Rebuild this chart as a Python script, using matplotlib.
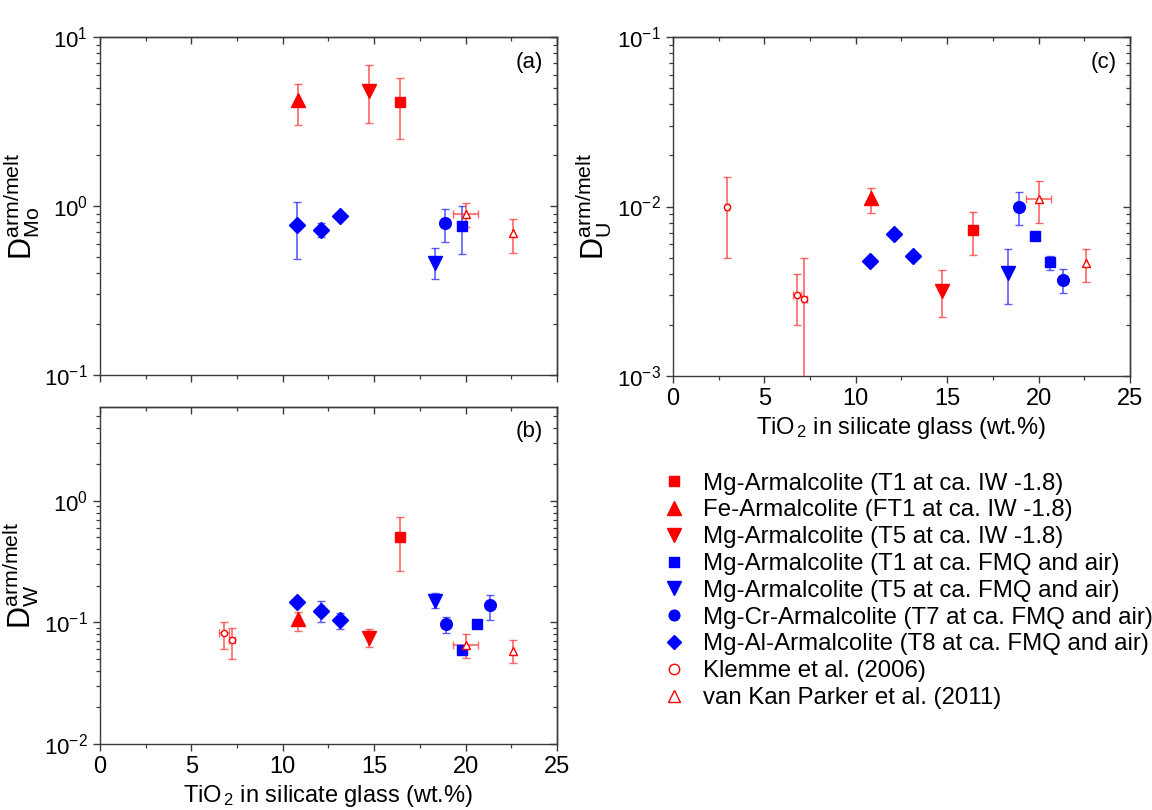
import matplotlib
matplotlib.use('Agg')
import matplotlib.pyplot as plt
from matplotlib.ticker import MultipleLocator, NullFormatter
from matplotlib.lines import Line2D
import numpy as np

plt.rcParams['font.family'] = ['Liberation Sans', 'DejaVu Sans']
plt.rcParams['mathtext.fontset'] = 'custom'
plt.rcParams['mathtext.rm'] = 'Liberation Sans'
plt.rcParams['mathtext.it'] = 'Liberation Sans:italic'
plt.rcParams['mathtext.bf'] = 'Liberation Sans:bold'
plt.rcParams['mathtext.sf'] = 'Liberation Sans'
plt.rcParams['axes.unicode_minus'] = False

# ---- data (TiO2 wt.%, D values and error-bar ends) ----
# Mg-Armalcolite T1, IW -1.8
t1iw_x = [16.4]
t1iw_mo, t1iw_mo_lo, t1iw_mo_hi = [4.14], [2.49], [5.74]
t1iw_w, t1iw_w_lo, t1iw_w_hi = [0.504], [0.267], [0.735]
t1iw_u, t1iw_u_lo, t1iw_u_hi = [0.00728], [0.00516], [0.00934]

# Fe-Armalcolite FT1, IW -1.8
ft1_x = [10.85]
ft1_mo, ft1_mo_lo, ft1_mo_hi = [4.24], [3.01], [5.27]
ft1_w, ft1_w_lo, ft1_w_hi = [0.106], [0.085], [0.122]
ft1_u, ft1_u_lo, ft1_u_hi = [0.0112], [0.0091], [0.0128]

# Mg-Armalcolite T5, IW -1.8
t5iw_x = [14.73]
t5iw_mo, t5iw_mo_lo, t5iw_mo_hi = [4.81], [3.08], [6.82]
t5iw_w, t5iw_w_lo, t5iw_w_hi = [0.075], [0.063], [0.0877]
t5iw_u, t5iw_u_lo, t5iw_u_hi = [0.00318], [0.00224], [0.00423]

# Mg-Armalcolite T1, FMQ and air
t1fmq_x_mo = [19.82]
t1fmq_mo, t1fmq_mo_lo, t1fmq_mo_hi = [0.762], [0.52], [1.0]
t1fmq_x = [19.8, 20.64]
t1fmq_w, t1fmq_w_lo, t1fmq_w_hi = [0.0593, 0.0968], [0.0593, 0.0968], [0.0593, 0.0968]
t1fmq_u, t1fmq_u_lo, t1fmq_u_hi = [0.00672, 0.00469], [0.00672, 0.00422], [0.00672, 0.00512]

# Mg-Armalcolite T5, FMQ and air
t5fmq_x = [18.34]
t5fmq_mo, t5fmq_mo_lo, t5fmq_mo_hi = [0.458], [0.368], [0.562]
t5fmq_w, t5fmq_w_lo, t5fmq_w_hi = [0.150], [0.132], [0.175]
t5fmq_u, t5fmq_u_lo, t5fmq_u_hi = [0.00407], [0.00266], [0.00563]

# Mg-Cr-Armalcolite T7, FMQ and air
t7_x_mo = [18.9]
t7_mo, t7_mo_lo, t7_mo_hi = [0.789], [0.609], [0.964]
t7_x = [18.92, 21.35]
t7_w, t7_w_lo, t7_w_hi = [0.0968, 0.138], [0.0813, 0.105], [0.111, 0.169]
t7_u, t7_u_lo, t7_u_hi = [0.00996, 0.00369], [0.00776, 0.0031], [0.0121, 0.00427]

# Mg-Al-Armalcolite T8, FMQ and air
t8_x = [10.8, 12.07, 13.11]
t8_mo, t8_mo_lo, t8_mo_hi = [0.773, 0.721, 0.877], [0.488, 0.66, 0.877], [1.05, 0.79, 0.877]
t8_w, t8_w_lo, t8_w_hi = [0.147, 0.125, 0.105], [0.147, 0.1006, 0.0888], [0.147, 0.150, 0.12]
t8_u, t8_u_lo, t8_u_hi = [0.00478, 0.0069, 0.00509], [0.00478, 0.0069, 0.00509], [0.00478, 0.0069, 0.00509]

# Klemme et al. (2006)
kl_x_w, kl_xerr_w = [6.78, 7.22], [0.25, 0.15]
kl_w, kl_w_lo, kl_w_hi = [0.0813, 0.0716], [0.0609, 0.0504], [0.1007, 0.0898]
kl_x_u, kl_xerr_u = [2.98, 6.77, 7.19], [0.11, 0.22, 0.15]
kl_u, kl_u_lo, kl_u_hi = [0.0100, 0.0030, 0.00284], [0.0050, 0.0020, 0.0005], [0.01496, 0.00401, 0.0050]

# van Kan Parker et al. (2011)
vk_x, vk_xerr = [20.0, 22.58], [0.7, 0.0]
vk_mo, vk_mo_lo, vk_mo_hi = [0.893, 0.689], [0.755, 0.525], [1.04, 0.838]
vk_w, vk_w_lo, vk_w_hi = [0.0648, 0.0582], [0.0514, 0.0461], [0.0797, 0.0711]
vk_u, vk_u_lo, vk_u_hi = [0.01106, 0.00463], [0.00798, 0.0036], [0.01406, 0.00563]

labels = ['Mg-Armalcolite (T1 at ca. IW -1.8)',
          'Fe-Armalcolite (FT1 at ca. IW -1.8)',
          'Mg-Armalcolite (T5 at ca. IW -1.8)',
          'Mg-Armalcolite (T1 at ca. FMQ and air)',
          'Mg-Armalcolite (T5 at ca. FMQ and air)',
          'Mg-Cr-Armalcolite (T7 at ca. FMQ and air)',
          'Mg-Al-Armalcolite (T8 at ca. FMQ and air)',
          'Klemme et al. (2006)',
          'van Kan Parker et al. (2011)']

RED = '#ff0000'
BLUE = '#0000ff'
RED_E = (1.0, 0.25, 0.25, 0.8)
BLUE_E = (0.2, 0.2, 1.0, 0.8)

st_t1iw = dict(marker='s', ms=7.4, mfc=RED, mec=RED, ecolor=RED_E)
st_ft1 = dict(marker='^', ms=10.5, mfc=RED, mec=RED, ecolor=RED_E)
st_t5iw = dict(marker='v', ms=10.2, mfc=RED, mec=RED, ecolor=RED_E)
st_t1fmq = dict(marker='s', ms=7.4, mfc=BLUE, mec=BLUE, ecolor=BLUE_E)
st_t5fmq = dict(marker='v', ms=10.2, mfc=BLUE, mec=BLUE, ecolor=BLUE_E)
st_t7 = dict(marker='o', ms=8.4, mfc=BLUE, mec=BLUE, ecolor=BLUE_E)
st_t8 = dict(marker='D', ms=8.0, mfc=BLUE, mec=BLUE, ecolor=BLUE_E)
st_kl = dict(marker='o', ms=4.5, mfc='white', mec=RED, ecolor=RED_E)
st_vk = dict(marker='^', ms=5.5, mfc='white', mec=RED, ecolor=RED_E)


def draw(ax, x, y, lo, hi, st, xerr=None):
    y = np.array(y)
    yerr = [y - np.array(lo), np.array(hi) - y]
    ax.errorbar(x, y, yerr=yerr, xerr=xerr, fmt=st['marker'], ms=st['ms'],
                mfc=st['mfc'], mec=st['mec'], mew=1.0, ecolor=st['ecolor'],
                elinewidth=1.2, capsize=3, capthick=1.2, linestyle='none',
                zorder=3)


SPINE = '#3a3a3a'


def style_axes(ax, ylim, show_xlabels):
    ax.set_yscale('log')
    ax.set_xlim(0, 25)
    ax.set_ylim(*ylim)
    ax.xaxis.set_major_locator(MultipleLocator(5))
    ax.xaxis.set_minor_locator(MultipleLocator(2.5))
    ax.yaxis.set_minor_formatter(NullFormatter())
    for s in ax.spines.values():
        s.set_color(SPINE)
        s.set_linewidth(1.0)
    ax.tick_params(which='both', direction='out', colors=SPINE, labelcolor='black',
                   top=False, right=False)
    ax.tick_params(axis='x', labelsize=17)
    ax.tick_params(axis='y', labelsize=16)
    ax.tick_params(which='major', length=5, width=1.0)
    ax.tick_params(which='minor', length=3, width=0.9)
    if not show_xlabels:
        ax.tick_params(axis='x', labelbottom=False)
    # mirrored inward ticks on top and right
    top = ax.secondary_xaxis('top')
    top.xaxis.set_major_locator(MultipleLocator(5))
    top.xaxis.set_minor_locator(MultipleLocator(2.5))
    top.tick_params(which='both', direction='in', labeltop=False, colors=SPINE)
    top.tick_params(which='major', length=5, width=1.0)
    top.tick_params(which='minor', length=3, width=0.9)
    right = ax.secondary_yaxis('right')
    right.tick_params(which='both', direction='in', labelright=False, colors=SPINE)
    right.tick_params(which='major', length=5, width=1.0)
    right.tick_params(which='minor', length=3, width=0.9)
    for sec in (top, right):
        for s in sec.spines.values():
            s.set_color(SPINE)
            s.set_linewidth(1.0)


fig = plt.figure(figsize=(11.52, 8.1), dpi=100)
ax_a = fig.add_axes([0.0868, 0.537, 0.3967, 0.4173])
ax_b = fig.add_axes([0.0868, 0.0815, 0.3967, 0.416])
ax_c = fig.add_axes([0.5842, 0.5358, 0.3967, 0.4185])

# (a) Mo
draw(ax_a, t1iw_x, t1iw_mo, t1iw_mo_lo, t1iw_mo_hi, st_t1iw)
draw(ax_a, ft1_x, ft1_mo, ft1_mo_lo, ft1_mo_hi, st_ft1)
draw(ax_a, t5iw_x, t5iw_mo, t5iw_mo_lo, t5iw_mo_hi, st_t5iw)
draw(ax_a, t1fmq_x_mo, t1fmq_mo, t1fmq_mo_lo, t1fmq_mo_hi, st_t1fmq)
draw(ax_a, t5fmq_x, t5fmq_mo, t5fmq_mo_lo, t5fmq_mo_hi, st_t5fmq)
draw(ax_a, t7_x_mo, t7_mo, t7_mo_lo, t7_mo_hi, st_t7)
draw(ax_a, t8_x, t8_mo, t8_mo_lo, t8_mo_hi, st_t8)
draw(ax_a, vk_x, vk_mo, vk_mo_lo, vk_mo_hi, st_vk, xerr=vk_xerr)

# (b) W
draw(ax_b, t1iw_x, t1iw_w, t1iw_w_lo, t1iw_w_hi, st_t1iw)
draw(ax_b, ft1_x, ft1_w, ft1_w_lo, ft1_w_hi, st_ft1)
draw(ax_b, t5iw_x, t5iw_w, t5iw_w_lo, t5iw_w_hi, st_t5iw)
draw(ax_b, t1fmq_x, t1fmq_w, t1fmq_w_lo, t1fmq_w_hi, st_t1fmq)
draw(ax_b, t5fmq_x, t5fmq_w, t5fmq_w_lo, t5fmq_w_hi, st_t5fmq)
draw(ax_b, t7_x, t7_w, t7_w_lo, t7_w_hi, st_t7)
draw(ax_b, t8_x, t8_w, t8_w_lo, t8_w_hi, st_t8)
draw(ax_b, kl_x_w, kl_w, kl_w_lo, kl_w_hi, st_kl, xerr=kl_xerr_w)
draw(ax_b, vk_x, vk_w, vk_w_lo, vk_w_hi, st_vk, xerr=vk_xerr)

# (c) U
draw(ax_c, t1iw_x, t1iw_u, t1iw_u_lo, t1iw_u_hi, st_t1iw)
draw(ax_c, ft1_x, ft1_u, ft1_u_lo, ft1_u_hi, st_ft1)
draw(ax_c, t5iw_x, t5iw_u, t5iw_u_lo, t5iw_u_hi, st_t5iw)
draw(ax_c, t1fmq_x, t1fmq_u, t1fmq_u_lo, t1fmq_u_hi, st_t1fmq)
draw(ax_c, t5fmq_x, t5fmq_u, t5fmq_u_lo, t5fmq_u_hi, st_t5fmq)
draw(ax_c, t7_x, t7_u, t7_u_lo, t7_u_hi, st_t7)
draw(ax_c, t8_x, t8_u, t8_u_lo, t8_u_hi, st_t8)
draw(ax_c, kl_x_u, kl_u, kl_u_lo, kl_u_hi, st_kl, xerr=kl_xerr_u)
draw(ax_c, vk_x, vk_u, vk_u_lo, vk_u_hi, st_vk, xerr=vk_xerr)

style_axes(ax_a, (0.1, 10), False)
style_axes(ax_b, (0.01, 5.9), True)
style_axes(ax_c, (0.001, 0.1), True)

xlab = r'TiO$_{\,2}$ in silicate glass (wt.%)'
ax_b.set_xlabel(xlab, fontsize=17, labelpad=4)
ax_c.set_xlabel(xlab, fontsize=17, labelpad=4)
ax_a.set_ylabel(r'D$^{\rm arm/melt}_{\rm Mo}$', fontsize=22, labelpad=2)
ax_b.set_ylabel(r'D$^{\rm arm/melt}_{\rm W}$', fontsize=22, labelpad=2)
ax_c.set_ylabel(r'D$^{\rm arm/melt}_{\rm U}$', fontsize=22, labelpad=2)

for ax, tag in ((ax_a, '(a)'), (ax_b, '(b)'), (ax_c, '(c)')):
    ax.text(0.97, 0.926, tag, transform=ax.transAxes, ha='right', va='center',
            fontsize=16)

# legend
leg_styles = [(st_t1iw, 7.2), (st_ft1, 9.5), (st_t5iw, 9.5), (st_t1fmq, 7.2),
              (st_t5fmq, 9.5), (st_t7, 7.7), (st_t8, 7.2), (st_kl, 7.5), (st_vk, 9.0)]
handles = [Line2D([], [], linestyle='none', marker=st['marker'], ms=ms,
                  mfc=st['mfc'], mec=st['mec'], mew=1.0)
           for st, ms in leg_styles]
fig.legend(handles, labels, loc='upper left', bbox_to_anchor=(0.5755, 0.4165),
           frameon=False, fontsize=17.3, handlelength=0.9, handletextpad=0.75,
           labelspacing=0.2, borderpad=0, borderaxespad=0)

fig.savefig('out.png', dpi=100)
